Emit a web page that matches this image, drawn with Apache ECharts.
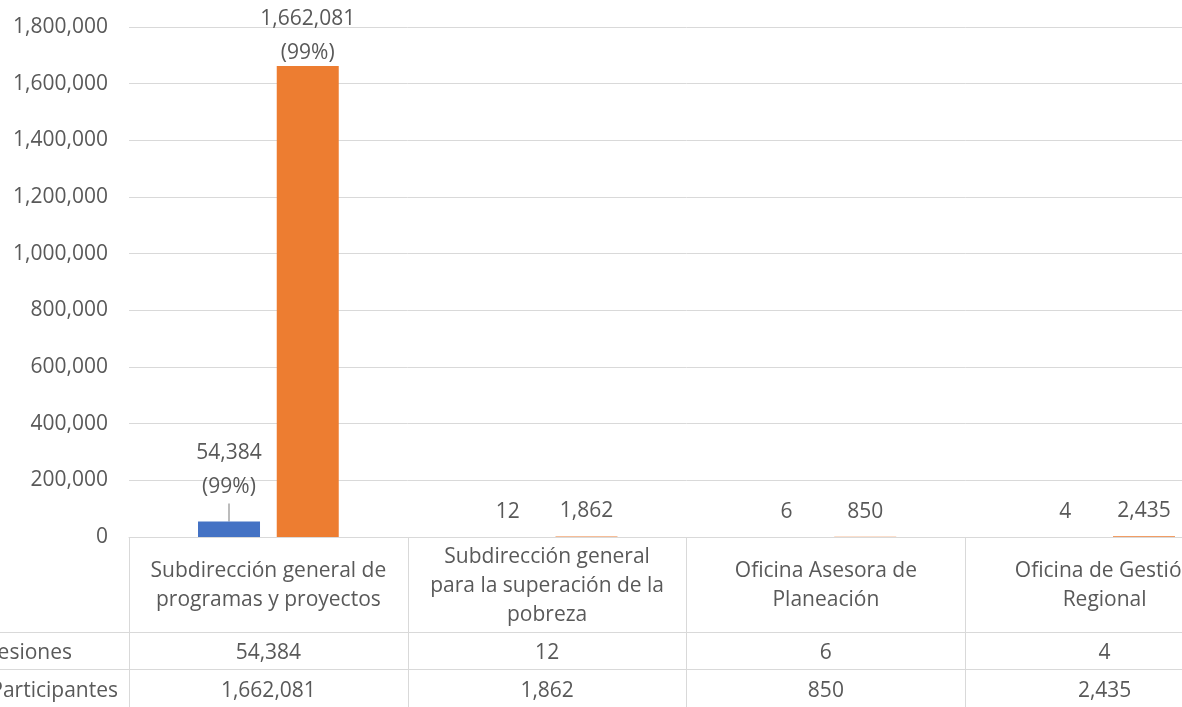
<!DOCTYPE html>
<html lang="es">
<head>
    <meta charset="UTF-8">
    <title>Sesiones y participantes</title>
    <script src="https://cdn.jsdelivr.net/npm/echarts@6.0.0/dist/echarts.min.js"></script>
    <style>
        html, body { margin: 0; padding: 0; overflow: hidden; background: #fff; }
        #chart { width: 1260px; height: 707px; }
    </style>
</head>
<body>
    <div id="chart"></div>
    <script>
        // data
        const categories = [
            'Subdirección general de\nprogramas y proyectos',
            'Subdirección general\npara la superación de la\npobreza',
            'Oficina Asesora de\nPlaneación',
            'Oficina de Gestión\nRegional'
        ]
        const sesiones = [54384, 12, 6, 4]
        const participantes = [1662081, 1862, 850, 2435]
        const sesionesShare = ['99%', '', '', '']
        const participantesShare = ['99%', '', '', '']
        const rowNames = ['Sesiones', 'Participantes']
        const yMin = 0
        const yMax = 1800000
        const yStep = 200000

        const FONT = "'Open Sans', sans-serif"
        const TEXT = '#595959'
        const LINE = '#d9d9d9'

        const fmt = v => v.toLocaleString('en-US')

        const chart = echarts.init(document.getElementById('chart'))

        const barLabel = shares => ({
            show: true,
            position: 'top',
            distance: 8,
            color: TEXT,
            fontFamily: FONT,
            fontSize: 21,
            lineHeight: 34,
            formatter: p => shares[p.dataIndex] ? fmt(p.value) + '\n(' + shares[p.dataIndex] + ')' : fmt(p.value)
        })

        const rowAxis = (values, margin) => ({
            type: 'category',
            position: 'bottom',
            data: categories,
            axisLine: { show: false },
            axisTick: { show: false },
            axisLabel: {
                interval: 0,
                margin: margin,
                verticalAlign: 'middle',
                color: TEXT,
                fontFamily: FONT,
                fontSize: 21,
                formatter: (v, i) => fmt(values[i])
            }
        })

        // only the first blue label is pulled up with a leader line
        const sesionesData = sesiones.map((v, i) => i === 0
            ? { value: v, labelLine: { show: true, lineStyle: { color: '#a6a6a6', width: 1.5 } } }
            : { value: v, labelLine: { show: false } })

        const option = {
            animation: false,
            grid: { left: 129, right: 16, top: 27, bottom: 170, outerBoundsMode: 'none' },
            xAxis: [
                {
                    type: 'category',
                    position: 'bottom',
                    data: categories,
                    axisLine: { show: true, lineStyle: { color: LINE } },
                    axisTick: { show: true, length: 175, lineStyle: { color: LINE } },
                    axisLabel: {
                        interval: 0,
                        margin: 49,
                        verticalAlign: 'middle',
                        align: 'center',
                        lineHeight: 29,
                        color: TEXT,
                        fontFamily: FONT,
                        fontSize: 21
                    }
                },
                rowAxis(sesiones, 116),
                rowAxis(participantes, 154)
            ],
            yAxis: {
                type: 'value',
                min: yMin,
                max: yMax,
                interval: yStep,
                axisLine: { show: false },
                axisTick: { show: false },
                splitLine: { lineStyle: { color: LINE } },
                axisLabel: {
                    margin: 21,
                    color: TEXT,
                    fontFamily: FONT,
                    fontSize: 21,
                    formatter: v => fmt(v)
                }
            },
            graphic: [
                { type: 'line', shape: { x1: 0, y1: 632.5, x2: 1260, y2: 632.5 }, style: { stroke: LINE, lineWidth: 1 } },
                { type: 'line', shape: { x1: 0, y1: 669.5, x2: 1260, y2: 669.5 }, style: { stroke: LINE, lineWidth: 1 } },
                { type: 'text', x: 72, y: 653, style: { text: rowNames[0], align: 'right', verticalAlign: 'middle', fill: TEXT, font: '21px ' + FONT } },
                { type: 'text', x: 118, y: 691, style: { text: rowNames[1], align: 'right', verticalAlign: 'middle', fill: TEXT, font: '21px ' + FONT } }
            ],
            series: [
                {
                    name: rowNames[0],
                    type: 'bar',
                    data: sesionesData,
                    barWidth: 62,
                    barGap: '27%',
                    itemStyle: { color: '#4472C4' },
                    label: barLabel(sesionesShare),
                    labelLayout: p => p.dataIndex === 0 ? { dy: -10 } : {}
                },
                {
                    name: rowNames[1],
                    type: 'bar',
                    data: participantes,
                    barWidth: 62,
                    itemStyle: { color: '#ED7D31' },
                    label: barLabel(participantesShare),
                    labelLayout: p => p.dataIndex === 0 ? { dy: 12 } : {}
                }
            ]
        }

        chart.setOption(option)
    </script>
</body>
</html>
